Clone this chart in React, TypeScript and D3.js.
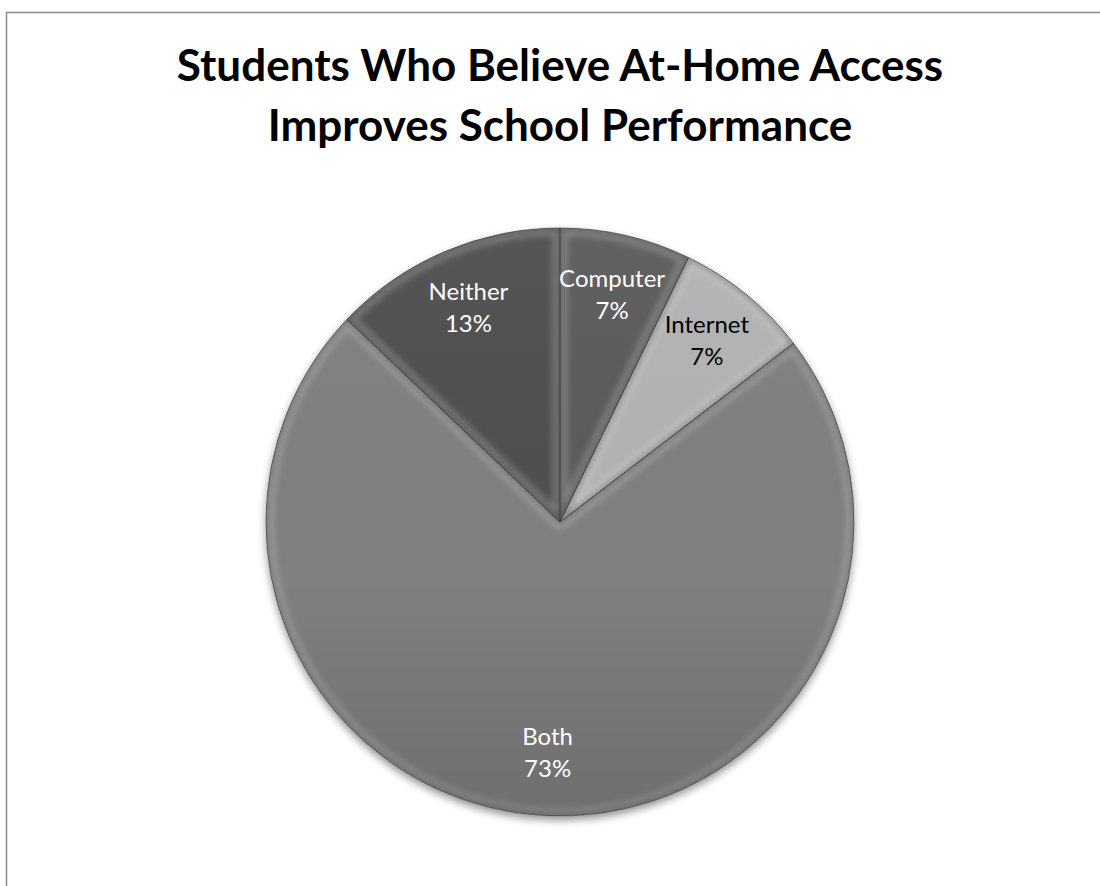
import React from "react";
import * as d3 from "d3";

const categories = ["Computer", "Internet", "Both", "Neither"];
const values = [7.2, 7.4, 72.5, 12.9];
const sliceColors = ["#5b5b5b", "#b3b3b3", "#808080", "#4f4f4f"];
const labelColors = ["#ffffff", "#000000", "#ffffff", "#ffffff"];
const titleLines = ["Students Who Believe At-Home Access", "Improves School Performance"];

const W = 1100;
const H = 886;
const cx = 560;
const cy = 522;
const R = 294;
const FONT = "Lato, 'Open Sans', sans-serif";

export default function App() {
  const total = d3.sum(values);
  const pie = d3.pie<number>().sort(null).value((d) => d)(values);
  const arc = d3.arc<d3.PieArcDatum<number>>().innerRadius(0).outerRadius(R);
  const labelArc = d3.arc<d3.PieArcDatum<number>>().innerRadius(R * 0.79).outerRadius(R * 0.79);

  return (
    <svg width={W} height={H} style={{ position: "absolute", left: 0, top: 0, background: "#fff" }}>
      <defs>
        <filter id="shadow" x="-20%" y="-20%" width="140%" height="140%">
          <feGaussianBlur in="SourceAlpha" stdDeviation="4" />
          <feOffset dx="0" dy="4" result="b" />
          <feComponentTransfer>
            <feFuncA type="linear" slope="0.45" />
          </feComponentTransfer>
          <feMerge>
            <feMergeNode />
            <feMergeNode in="SourceGraphic" />
          </feMerge>
        </filter>
        <filter id="soft" x="-20%" y="-20%" width="140%" height="140%">
          <feGaussianBlur stdDeviation="3" />
        </filter>
        <linearGradient id="shade" x1="0" y1="0" x2="0" y2="1">
          <stop offset="0" stopColor="#ffffff" stopOpacity="0.04" />
          <stop offset="0.6" stopColor="#000000" stopOpacity="0.0" />
          <stop offset="1" stopColor="#000000" stopOpacity="0.14" />
        </linearGradient>
        {pie.map((p, i) => (
          <clipPath id={`clip${i}`} key={i}>
            <path d={arc(p) || ""} transform={`translate(${cx},${cy})`} />
          </clipPath>
        ))}
      </defs>

      <rect x={6.5} y={12.5} width={1200} height={1000} fill="#fff" stroke="#8a8a8a" strokeWidth={1.5} />

      {titleLines.map((t, i) => (
        <text
          key={i}
          x={560}
          y={81 + i * 60}
          textAnchor="middle"
          fontFamily={FONT}
          fontWeight={700}
          fontSize={44}
          fill="#000"
        >
          {t}
        </text>
      ))}

      <g filter="url(#shadow)">
        <circle cx={cx} cy={cy} r={R} fill="#7a7a7a" />
      </g>

      {pie.map((p, i) => (
        <g key={i} clipPath={`url(#clip${i})`}>
          <path d={arc(p) || ""} transform={`translate(${cx},${cy})`} fill={sliceColors[i]} />
          <path
            d={arc(p) || ""}
            transform={`translate(${cx},${cy})`}
            fill="none"
            stroke="#ffffff"
            strokeOpacity={0.28}
            strokeWidth={14}
            strokeLinejoin="round"
            filter="url(#soft)"
          />
          <circle cx={cx} cy={cy} r={R} fill="url(#shade)" />
          <path
            d={arc(p) || ""}
            transform={`translate(${cx},${cy})`}
            fill="none"
            stroke="#000000"
            strokeOpacity={0.35}
            strokeWidth={5}
            filter="url(#soft)"
          />
        </g>
      ))}
      {pie.map((p, i) => (
        <path
          key={`e${i}`}
          d={arc(p) || ""}
          transform={`translate(${cx},${cy})`}
          fill="none"
          stroke="#3a3a3a"
          strokeOpacity={0.6}
          strokeWidth={1}
        />
      ))}

      {pie.map((p, i) => {
        const [lx, ly] = labelArc.centroid(p);
        const pct = Math.round((values[i] / total) * 100);
        return (
          <text
            key={`l${i}`}
            x={cx + lx}
            y={cy + ly}
            textAnchor="middle"
            fontFamily={FONT}
            fontSize={24}
            fill={labelColors[i]}
          >
            <tspan x={cx + lx} dy={-9}>{categories[i]}</tspan>
            <tspan x={cx + lx} dy={32}>{pct + "%"}</tspan>
          </text>
        );
      })}
    </svg>
  );
}
